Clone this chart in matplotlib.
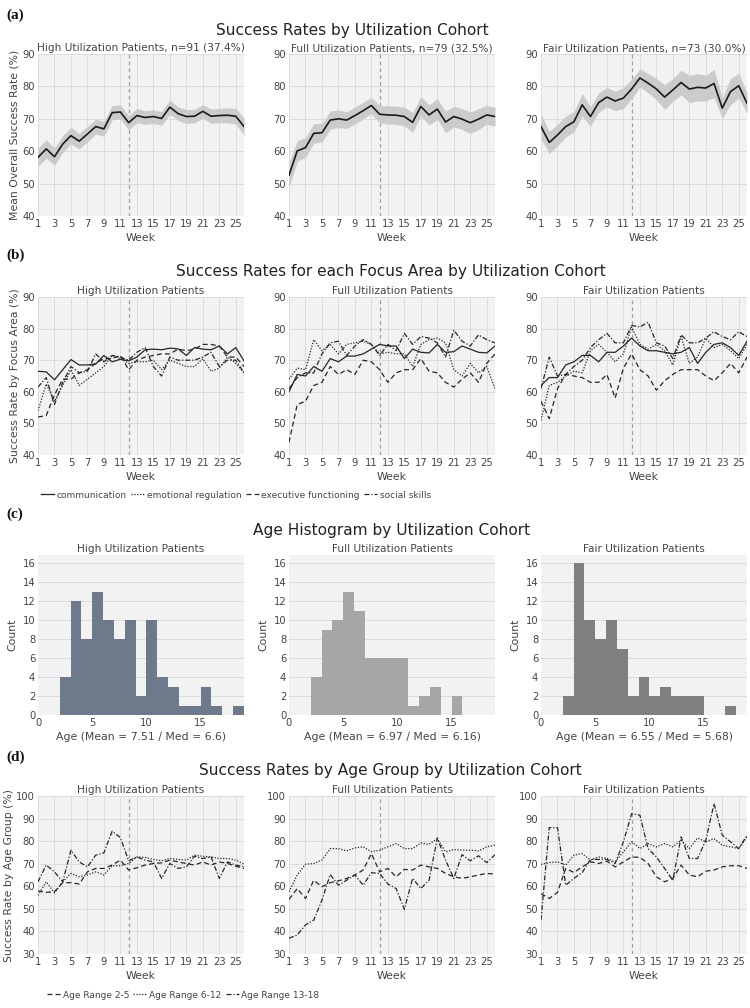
import numpy as np
import matplotlib
matplotlib.use("Agg")
import matplotlib.pyplot as plt

# ---------------- data ----------------
weeks = list(range(1, 27))
cohort_names = ["High Utilization Patients", "Full Utilization Patients", "Fair Utilization Patients"]
cohort_n = ["n=91 (37.4%)", "n=79 (32.5%)", "n=73 (30.0%)"]

# (a) mean overall success rate and CI half-widths
mean_high = [58.1, 60.7, 58.3, 62.2, 64.8, 63.1, 65.3, 67.6, 66.9, 71.9, 72.1, 68.8, 71.0,
             70.4, 70.7, 70.1, 73.6, 71.6, 70.7, 70.8, 72.3, 70.8, 71.0, 71.1, 70.8, 67.6]
ci_high = [2.9, 2.8, 2.7, 2.6, 2.5, 2.4, 2.4, 2.3, 2.3, 2.2, 2.2, 2.2, 2.2,
           2.1, 2.1, 2.1, 2.2, 2.1, 2.1, 2.1, 2.1, 2.2, 2.2, 2.3, 2.4, 2.7]
mean_full = [52.6, 60.1, 61.1, 65.5, 65.7, 69.6, 70.0, 69.6, 71.0, 72.5, 74.1, 71.4, 71.2,
             71.1, 70.7, 68.9, 73.8, 71.2, 73.0, 69.0, 70.7, 69.9, 68.8, 69.9, 71.2, 70.7]
ci_full = [3.8, 3.2, 3.0, 3.0, 2.9, 2.8, 2.7, 2.6, 2.6, 2.6, 2.5, 2.7, 2.8,
           2.8, 2.9, 3.0, 3.0, 3.1, 3.2, 3.3, 3.2, 3.2, 3.3, 3.2, 2.9, 2.9]
mean_fair = [67.6, 62.7, 65.0, 67.6, 69.1, 74.3, 70.7, 75.0, 76.7, 75.5, 76.4, 79.2, 82.6,
             81.0, 79.2, 76.7, 78.9, 81.2, 79.2, 79.7, 79.5, 80.9, 73.3, 78.4, 80.2, 74.8]
ci_fair = [3.8, 3.4, 3.3, 3.2, 3.2, 3.5, 3.0, 3.0, 3.0, 3.0, 3.2, 3.0, 2.8,
           3.0, 3.3, 3.8, 3.5, 3.8, 4.2, 4.2, 4.0, 4.3, 3.2, 4.0, 3.8, 3.2]

# (b) focus areas
focus_areas = ["communication", "emotional regulation", "executive functioning", "social skills"]
focus_high = {
    "communication": [66.5, 66.3, 63.8, 67.0, 70.2, 68.5, 68.5, 68.8, 71.5, 69.5, 70.3, 69.8, 71.0,
                      73.3, 73.5, 73.3, 73.8, 73.6, 71.5, 74.0, 73.5, 73.3, 74.5, 72.0, 74.0, 69.8],
    "emotional regulation": [54.0, 62.5, 57.0, 62.0, 67.0, 62.0, 64.0, 66.0, 68.0, 71.5, 70.5, 69.0, 69.5,
                             69.5, 70.0, 67.0, 70.0, 69.0, 68.0, 68.0, 70.5, 66.5, 67.5, 71.0, 69.0, 66.0],
    "executive functioning": [52.0, 52.5, 59.0, 64.0, 64.0, 66.0, 67.0, 69.0, 70.5, 70.5, 71.5, 67.0, 70.0,
                              71.0, 71.5, 72.0, 72.0, 73.5, 73.0, 73.5, 75.0, 75.0, 74.5, 71.0, 71.0, 68.0],
    "social skills": [61.5, 64.5, 56.0, 63.0, 68.0, 66.0, 66.5, 72.0, 69.5, 71.5, 71.0, 70.0, 72.5,
                      74.0, 68.0, 65.0, 71.0, 70.0, 70.0, 70.0, 71.0, 72.5, 68.0, 70.0, 70.0, 66.0],
}
focus_full = {
    "communication": [60.0, 65.5, 65.0, 68.0, 66.5, 70.5, 69.5, 71.3, 71.3, 72.0, 73.5, 75.0, 74.5,
                      74.5, 70.5, 73.5, 72.5, 72.3, 75.0, 72.5, 72.7, 74.5, 73.5, 72.5, 72.3, 74.5],
    "emotional regulation": [64.0, 67.5, 67.0, 76.5, 73.0, 75.0, 72.0, 75.0, 75.5, 76.0, 75.0, 72.0, 72.5,
                             72.0, 72.0, 68.0, 75.0, 76.5, 77.0, 75.5, 67.0, 65.0, 69.0, 66.0, 68.0, 61.0],
    "executive functioning": [44.0, 56.0, 57.0, 62.0, 63.0, 68.0, 65.5, 67.0, 65.5, 70.0, 69.5, 67.0, 63.0,
                              66.0, 67.0, 67.0, 70.5, 66.5, 66.0, 63.0, 61.5, 64.0, 66.0, 63.0, 69.0, 72.0],
    "social skills": [61.0, 64.5, 66.0, 66.0, 72.0, 75.5, 76.0, 71.5, 74.5, 76.5, 75.0, 71.5, 75.0,
                      73.0, 78.5, 75.0, 77.5, 77.0, 75.5, 71.0, 79.5, 76.0, 74.5, 78.0, 76.5, 75.5],
}
focus_fair = {
    "communication": [62.0, 64.5, 64.5, 68.5, 69.5, 71.5, 71.5, 69.5, 72.5, 72.5, 74.5, 77.0, 74.5,
                      73.0, 73.0, 72.5, 72.0, 72.5, 74.0, 69.0, 72.5, 75.0, 75.5, 74.0, 71.5, 76.0],
    "emotional regulation": [51.0, 62.0, 63.0, 65.0, 66.5, 66.0, 73.0, 75.0, 72.5, 69.5, 72.0, 80.5, 75.0,
                             73.5, 75.0, 73.0, 68.5, 77.5, 69.0, 71.0, 77.0, 74.0, 75.0, 73.0, 70.5, 75.0],
    "executive functioning": [57.0, 51.5, 61.0, 65.5, 65.0, 64.5, 63.0, 63.0, 65.5, 58.0, 67.5, 72.0, 67.0,
                              65.0, 60.5, 63.5, 65.5, 67.0, 67.0, 67.0, 65.0, 63.5, 66.0, 69.0, 66.0, 71.0],
    "social skills": [61.0, 71.0, 65.0, 65.5, 68.0, 70.0, 74.0, 76.5, 78.5, 75.5, 75.5, 81.0, 80.5,
                      82.0, 75.5, 74.5, 70.5, 78.0, 75.5, 75.5, 77.0, 79.0, 77.5, 76.5, 79.0, 77.5],
}

# (c) age histograms (counts per 1-year bin, starting at age 2)
age_bin_start = 2
hist_high = [4, 12, 8, 13, 10, 8, 10, 2, 10, 4, 3, 1, 1, 3, 1, 0, 1]
hist_full = [4, 9, 10, 13, 11, 6, 6, 6, 6, 1, 2, 3, 0, 2]
hist_fair = [2, 16, 10, 8, 10, 7, 2, 4, 2, 3, 2, 2, 2, 0, 0, 1]
age_labels = ["Age (Mean = 7.51 / Med = 6.6)", "Age (Mean = 6.97 / Med = 6.16)",
              "Age (Mean = 6.55 / Med = 5.68)"]

# (d) age groups
age_groups = ["Age Range 2-5", "Age Range 6-12", "Age Range 13-18"]
agegrp_high = {
    "Age Range 2-5": [58.0, 57.3, 57.6, 61.6, 61.6, 61.0, 66.4, 67.9, 67.9, 69.4, 71.6, 67.2, 68.2,
                      69.4, 70.1, 70.4, 71.6, 70.8, 70.1, 69.4, 70.8, 69.4, 70.8, 70.1, 68.9, 67.9],
    "Age Range 6-12": [56.0, 62.0, 57.1, 62.0, 65.7, 64.2, 65.0, 66.4, 65.0, 69.1, 69.1, 70.1, 73.0,
                       72.8, 71.9, 71.3, 72.3, 71.9, 71.6, 73.8, 73.3, 73.0, 72.3, 72.3, 71.6, 69.8],
    "Age Range 13-18": [62.0, 69.4, 66.4, 62.0, 76.0, 70.8, 68.6, 73.8, 74.8, 84.4, 81.6, 71.3, 73.0,
                        71.6, 70.8, 63.5, 70.1, 67.9, 68.6, 73.3, 72.3, 73.0, 63.5, 70.8, 69.4, 68.6],
}
agegrp_full = {
    "Age Range 2-5": [54.2, 59.0, 54.6, 62.7, 59.8, 61.6, 62.4, 63.5, 65.0, 67.2, 74.5, 66.4, 67.9,
                      64.2, 67.5, 67.2, 69.4, 68.6, 67.9, 65.7, 64.2, 63.5, 64.2, 65.0, 65.7, 65.4],
    "Age Range 6-12": [57.6, 65.0, 69.8, 70.1, 71.6, 76.7, 76.7, 75.7, 77.0, 77.5, 75.3, 76.0, 77.5,
                       78.9, 76.7, 76.7, 79.2, 78.6, 81.1, 75.3, 76.3, 76.0, 76.0, 75.7, 77.5, 78.2],
    "Age Range 13-18": [37.0, 38.4, 42.9, 45.0, 53.9, 65.2, 60.5, 62.7, 65.0, 60.5, 66.0, 65.7, 61.0,
                        59.0, 49.8, 63.5, 59.0, 62.7, 81.4, 71.6, 63.5, 74.0, 71.3, 73.5, 70.5, 74.0],
}
agegrp_fair = {
    "Age Range 2-5": [56.8, 54.6, 57.3, 67.9, 66.1, 68.6, 70.8, 70.1, 71.1, 68.6, 70.8, 73.0, 72.8,
                      70.1, 64.2, 62.0, 63.5, 69.4, 65.0, 64.2, 66.7, 67.2, 68.6, 69.1, 69.1, 67.9],
    "Age Range 6-12": [69.7, 70.5, 70.8, 69.4, 73.8, 74.5, 71.6, 73.0, 72.3, 70.8, 75.3, 79.7, 76.7,
                       78.9, 77.5, 78.9, 77.5, 80.4, 76.7, 81.4, 79.7, 81.1, 78.2, 77.5, 76.7, 81.9],
    "Age Range 13-18": [45.0, 86.0, 86.0, 60.5, 63.5, 66.1, 71.9, 71.9, 71.9, 70.1, 79.7, 92.2, 91.5,
                        76.7, 73.0, 67.9, 62.7, 81.9, 72.3, 72.3, 80.4, 96.6, 82.6, 79.7, 76.7, 82.6],
}

# ---------------- style ----------------
plt.rcParams['font.family'] = ['DejaVu Sans']
TXT = '#444444'
BG = '#f2f2f2'
GRID = '#dcdcdc'
LINE = '#1a1a1a'
styles = {
    "communication": '-', "emotional regulation": (0, (1, 1.3)),
    "executive functioning": (0, (4, 2.5)), "social skills": (0, (4, 1.5, 1, 1.5)),
    "Age Range 2-5": (0, (4, 2.5)), "Age Range 6-12": (0, (1, 1.3)),
    "Age Range 13-18": (0, (4, 1.5, 1, 1.5)),
}
hist_colors = ['#6c7a8c', '#a6a6a6', '#808080']

W, H = 750, 1008
fig = plt.figure(figsize=(W / 100, H / 100), dpi=100)

col_left = [38, 289, 541]
col_w = 206


def add_ax(col, top, bottom):
    return fig.add_axes([col_left[col] / W, 1 - bottom / H, col_w / W, (bottom - top) / H])


def style_ax(ax, week_axis=True):
    ax.set_facecolor(BG)
    for s in ax.spines.values():
        s.set_visible(False)
    ax.tick_params(length=0, labelsize=7.2, labelcolor=TXT, pad=2)
    ax.set_axisbelow(True)
    if week_axis:
        ax.set_xlim(1, 26)
        ax.set_xticks(weeks[::2])
        ax.grid(True, color=GRID, lw=0.7)
        ax.axvline(12, color='#a0a0a0', lw=0.9, ls=(0, (3, 2.5)), zorder=1)
        ax.set_xlabel("Week", fontsize=7.8, color=TXT, labelpad=3)


def fig_text(x, y, s, **kw):
    fig.text(x / W, 1 - y / H, s, **kw)


# panel labels and titles
for lab, y in [("(a)", 15), ("(b)", 255), ("(c)", 514), ("(d)", 757)]:
    fig_text(6, y, lab, fontsize=11, fontweight='bold', family='Liberation Serif',
             va='center', ha='left', color='#111111')
for title, x, y in [("Success Rates by Utilization Cohort", 352, 30),
                    ("Success Rates for each Focus Area by Utilization Cohort", 391, 272),
                    ("Age Histogram by Utilization Cohort", 392, 530),
                    ("Success Rates by Age Group by Utilization Cohort", 390, 770)]:
    fig_text(x, y, title, fontsize=11.1, ha='center', va='center', color='#222222')

# (a)
means = [mean_high, mean_full, mean_fair]
cis = [ci_high, ci_full, ci_fair]
for i in range(3):
    ax = add_ax(i, 54, 216)
    style_ax(ax)
    m = np.array(means[i]); c = np.array(cis[i])
    ax.fill_between(weeks, m - c, m + c, color='#cbcbcb', lw=0, zorder=2)
    ax.plot(weeks, m, color=LINE, lw=1.2, zorder=3)
    ax.set_ylim(40, 90)
    ax.set_yticks(range(40, 91, 10))
    ax.set_title(f"{cohort_names[i]}, {cohort_n[i]}", fontsize=7.6, color=TXT, pad=2)
    if i == 0:
        ax.set_ylabel("Mean Overall Success Rate (%)", fontsize=7.8, color=TXT, labelpad=2)

# (b)
focus = [focus_high, focus_full, focus_fair]
handles_b = []
for i in range(3):
    ax = add_ax(i, 297, 455)
    style_ax(ax)
    for fa in focus_areas:
        ln, = ax.plot(weeks, focus[i][fa], color='#262626', lw=0.9, ls=styles[fa], label=fa, zorder=3)
        if i == 0:
            handles_b.append(ln)
    ax.set_ylim(40, 90)
    ax.set_yticks(range(40, 91, 10))
    ax.set_title(cohort_names[i], fontsize=7.6, color=TXT, pad=2)
    if i == 0:
        ax.set_ylabel("Success Rate by Focus Area (%)", fontsize=7.8, color=TXT, labelpad=2)
fig.legend(handles=handles_b, labels=focus_areas, loc='center left',
           bbox_to_anchor=(33 / W, 1 - 495 / H), ncol=4, frameon=False, fontsize=6.5,
           handlelength=1.45, handletextpad=0.3, columnspacing=0.45, labelcolor=TXT)

# (c)
hists = [hist_high, hist_full, hist_fair]
for i in range(3):
    ax = add_ax(i, 555, 715)
    style_ax(ax, week_axis=False)
    ax.grid(True, axis='y', color=GRID, lw=0.7)
    counts = hists[i]
    lefts = age_bin_start + np.arange(len(counts))
    ax.bar(lefts, counts, width=1.0, align='edge', color=hist_colors[i], lw=0, zorder=2)
    ax.set_xlim(0, 19)
    ax.set_ylim(0, 16.85)
    ax.set_xticks([0, 5, 10, 15])
    ax.set_yticks(range(0, 17, 2))
    ax.set_title(cohort_names[i], fontsize=7.6, color=TXT, pad=2)
    ax.set_ylabel("Count", fontsize=7.8, color=TXT, labelpad=4)
    ax.set_xlabel(age_labels[i], fontsize=7.8, color=TXT, labelpad=3)

# (d)
agegrps = [agegrp_high, agegrp_full, agegrp_fair]
handles_d = []
for i in range(3):
    ax = add_ax(i, 796, 954)
    style_ax(ax)
    for g in age_groups:
        ln, = ax.plot(weeks, agegrps[i][g], color='#262626', lw=0.9, ls=styles[g], label=g, zorder=3)
        if i == 0:
            handles_d.append(ln)
    ax.set_ylim(30, 100)
    ax.set_yticks(range(30, 101, 10))
    ax.set_title(cohort_names[i], fontsize=7.6, color=TXT, pad=2)
    if i == 0:
        ax.set_ylabel("Success Rate by Age Group (%)", fontsize=7.8, color=TXT, labelpad=2)
fig.legend(handles=handles_d, labels=age_groups, loc='center left',
           bbox_to_anchor=(39 / W, 1 - 995 / H), ncol=3, frameon=False, fontsize=6.5,
           handlelength=1.45, handletextpad=0.3, columnspacing=0.45, labelcolor=TXT)

fig.savefig("out.png", dpi=100, facecolor='white')
